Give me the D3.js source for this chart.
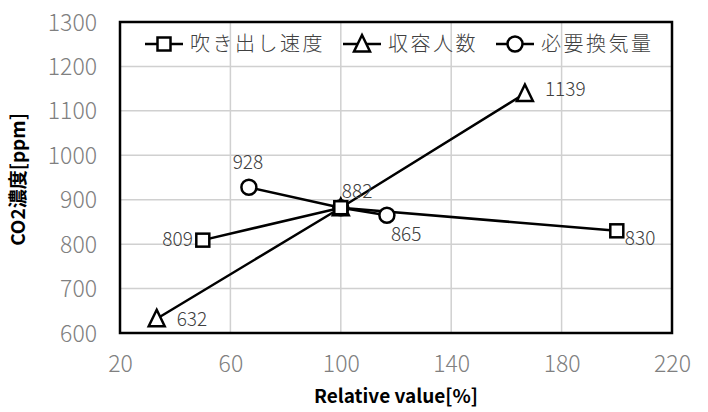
<!DOCTYPE html>
<html><head><meta charset="utf-8">
<script src="https://cdn.jsdelivr.net/npm/d3@7"></script>
<style>
body{margin:0;background:#fff;}
svg{display:block;font-family:"Noto Sans CJK JP","Noto Sans",sans-serif;}
</style></head>
<body><svg id="c" width="708" height="412"></svg>
<script>
const seriesNames = ["吹き出し速度", "収容人数", "必要換気量"];
const seriesX = [
  [50, 100, 200],
  [33.3, 100, 166.7],
  [66.7, 100, 116.7]
];
const seriesY = [
  [809, 882, 830],
  [632, 882, 1139],
  [928, 882, 865]
];
const seriesLabels = [
  ["809", "882", "830"],
  ["632", "", "1139"],
  ["928", "", "865"]
];
const markerTypes = ["square", "triangle", "circle"];
const xTicks = [20, 60, 100, 140, 180, 220];
const yTicks = [600, 700, 800, 900, 1000, 1100, 1200, 1300];
const xTitle = "Relative value[%]";
const yTitle = "CO2濃度[ppm]";

// label placement (style): [dx, dy, anchor]
const labelPlace = [
  [[-10, 6, "end"], [1, -10, "start"], [8, 14, "start"]],
  [[20, 7, "start"], null, [20, 2, "start"]],
  [[-1, -18, "middle"], null, [4, 26, "start"]]
];

const svg = d3.select("#c");
const L = 120, R = 672, T = 22, B = 333;
const x = d3.scaleLinear().domain([20, 220]).range([L, R]);
const y = d3.scaleLinear().domain([600, 1300]).range([B, T]);

// gridlines
svg.append("g").selectAll("line.v").data(xTicks.slice(1, -1)).join("line")
  .attr("x1", d => x(d)).attr("x2", d => x(d)).attr("y1", T).attr("y2", B)
  .attr("stroke", "#d0d0d0").attr("stroke-width", 1.5);
svg.append("g").selectAll("line.h").data(yTicks.slice(1, -1)).join("line")
  .attr("x1", L).attr("x2", R).attr("y1", d => y(d)).attr("y2", d => y(d))
  .attr("stroke", "#d0d0d0").attr("stroke-width", 1.5);

// axes (labels only)
const fmt = d3.format("d");
const xAxis = d3.axisBottom(x).tickValues(xTicks).tickFormat(fmt).tickSize(0).tickPadding(0);
const gx = svg.append("g").attr("transform", `translate(0,${B})`).call(xAxis);
gx.select(".domain").remove();
gx.selectAll("text").attr("fill", "#808080").attr("font-size", 23).attr("font-weight", 300).attr("dy", 0).attr("y", 39)
  .attr("font-family", "'Noto Sans CJK JP',sans-serif");

const yAxis = d3.axisLeft(y).tickValues(yTicks).tickFormat(fmt).tickSize(0).tickPadding(0);
const gy = svg.append("g").attr("transform", `translate(${L},0)`).call(yAxis);
gy.select(".domain").remove();
gy.selectAll("text").attr("fill", "#808080").attr("font-size", 23).attr("font-weight", 300).attr("x", -23).attr("dy", "0.35em")
  .attr("font-family", "'Noto Sans CJK JP',sans-serif");

// frame
svg.append("rect").attr("x", L).attr("y", T).attr("width", R - L).attr("height", B - T)
  .attr("fill", "none").attr("stroke", "#000").attr("stroke-width", 2.5);

// marker drawing
function marker(g, type, cx, cy) {
  if (type === "square") {
    g.append("rect").attr("x", cx - 6.5).attr("y", cy - 6.5).attr("width", 13).attr("height", 13)
      .attr("fill", "#fff").attr("stroke", "#000").attr("stroke-width", 2.5);
  } else if (type === "triangle") {
    g.append("path").attr("d", `M${cx},${cy - 9}L${cx + 8},${cy + 7.5}L${cx - 8},${cy + 7.5}Z`)
      .attr("fill", "#fff").attr("stroke", "#000").attr("stroke-width", 2.5);
  } else {
    g.append("circle").attr("cx", cx).attr("cy", cy).attr("r", 7.5)
      .attr("fill", "#fff").attr("stroke", "#000").attr("stroke-width", 2.5);
  }
}

const line = d3.line().x(d => x(d[0])).y(d => y(d[1]));
seriesNames.forEach((name, i) => {
  const pts = seriesX[i].map((v, j) => [v, seriesY[i][j]]);
  svg.append("path").attr("d", line(pts)).attr("fill", "none").attr("stroke", "#000").attr("stroke-width", 2.5);
});
[2, 1, 0].forEach(i => {
  const g = svg.append("g");
  seriesX[i].forEach((v, j) => marker(g, markerTypes[i], x(v), y(seriesY[i][j])));
});
// data labels
seriesNames.forEach((name, i) => {
  seriesX[i].forEach((v, j) => {
    const lab = seriesLabels[i][j];
    const p = labelPlace[i][j];
    if (!lab || !p) return;
    svg.append("text").attr("x", x(v) + p[0]).attr("y", y(seriesY[i][j]) + p[1])
      .attr("text-anchor", p[2]).attr("font-size", 19).attr("font-weight", 300).attr("fill", "#404040").text(lab);
  });
});

// legend
const legendX = [145, 343, 496];
seriesNames.forEach((name, i) => {
  const g = svg.append("g");
  const lx = legendX[i], ly = 44;
  g.append("line").attr("x1", lx).attr("x2", lx + 38).attr("y1", ly).attr("y2", ly)
    .attr("stroke", "#000").attr("stroke-width", 2.5);
  marker(g, markerTypes[i], lx + 19, ly);
  g.append("text").attr("x", lx + 45).attr("y", ly).attr("dy", "0.35em").attr("font-size", 20)
    .attr("letter-spacing", 2.5).attr("font-weight", 300).attr("fill", "#404040").text(name);
});

// axis titles
svg.append("text").attr("x", x(120)).attr("y", 403).attr("text-anchor", "middle")
  .attr("font-size", 19).attr("font-weight", "bold").attr("fill", "#000").text(xTitle);
svg.append("text").attr("transform", `translate(25,${(T + B) / 2 + 2}) rotate(-90)`).attr("text-anchor", "middle")
  .attr("font-size", 19).attr("font-weight", "bold").attr("fill", "#000").text(yTitle);
</script></body></html>
